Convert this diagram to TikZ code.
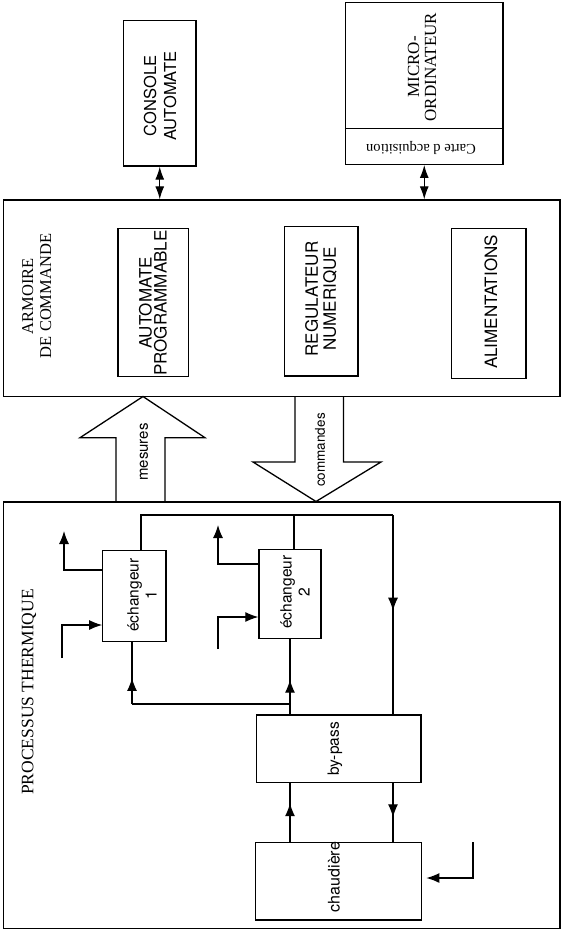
\documentclass[tikz,border=0pt]{standalone}
\usepackage{fontspec}
\setmainfont{Liberation Serif}
\setsansfont{TeX Gyre Heros}
\usetikzlibrary{arrows.meta,decorations.markings}
\tikzset{
  box/.style={draw, line width=1.3pt, inner sep=0pt},
  lbl/.style={inner sep=0pt, align=center, rotate=90},
  wire/.style={line width=1.2pt},
  tipend/.style={-{Latex[length=13pt,width=10pt]}},
  dbl/.style={{Latex[length=13pt,width=9pt]}-{Latex[length=13pt,width=9pt]}, line width=1.2pt},
  arrowat/.style={postaction={decorate}, decoration={markings, mark=at position #1 with {\arrow{Latex[length=13pt,width=10pt]}}}},
  big/.style={line width=1.3pt, line join=miter}
}
\begin{document}
\begin{tikzpicture}[x=1pt,y=-1pt]
\useasboundingbox (0,0) rectangle (562,937);
% boxes
\node[box, minimum width=72.7pt, minimum height=145.3pt] (console) at (159.75,93.35) {};
\node[box, minimum width=157.5pt, minimum height=161.9pt] (micro) at (424.25,83.35) {};
\coordinate (div) at (424,128.7);
\draw[wire] (micro.west |- div) -- (micro.east |- div);
\node[box, minimum width=556.4pt, minimum height=196.5pt] (armoire) at (281.8,298.25) {};
\node[box, minimum width=70.6pt, minimum height=148.4pt] (autoprog) at (153.3,302.5) {};
\node[box, minimum width=73.5pt, minimum height=149.5pt] (regul) at (321.25,301.25) {};
\node[box, minimum width=74.5pt, minimum height=150pt] (alim) at (488.75,303.5) {};
\node[box, minimum width=556.4pt, minimum height=426.3pt] (process) at (281.8,715.15) {};
\node[box, minimum width=63.2pt, minimum height=90.4pt] (ech1) at (134.4,596) {};
\node[box, minimum width=62pt, minimum height=89pt] (ech2) at (290,593.8) {};
\node[box, minimum width=164.5pt, minimum height=67.5pt] (bypass) at (338.75,748.75) {};
\node[box, minimum width=166.2pt, minimum height=77.3pt] (chaud) at (338.6,881.35) {};

% texts
\node[lbl, font=\sffamily\fontsize{16.5}{20}\selectfont] (tconsole) at (160,96) {CONSOLE\\AUTOMATE};
\node[lbl, font=\rmfamily\fontsize{17}{17}\selectfont] (tmicro) at (422,67) {MICRO-\\ORDINATEUR};
\node[inner sep=0pt, rotate=180, font=\rmfamily\fontsize{14.5}{16}\selectfont] (tcarte) at (421,147.5) {Carte d acquisition};
\node[lbl, font=\rmfamily\fontsize{16.5}{18}\selectfont] (tarmoire) at (36.7,296) {ARMOIRE\\DE COMMANDE};
\node[lbl, font=\sffamily\fontsize{17}{15}\selectfont] (tauto) at (153,303) {AUTOMATE\\PROGRAMMABLE};
\node[lbl, font=\sffamily\fontsize{17}{18}\selectfont] (tregul) at (321,299) {REGULATEUR\\NUMERIQUE};
\node[lbl, font=\sffamily\fontsize{17}{18}\selectfont] (talim) at (491,302) {ALIMENTATIONS};
\node[lbl, font=\sffamily\fontsize{15}{18}\selectfont] (tmes) at (144,452) {mesures};
\node[lbl, font=\sffamily\fontsize{13.5}{16}\selectfont] (tcom) at (320,450) {commandes};
\node[lbl, font=\rmfamily\fontsize{17.5}{20}\selectfont] (tproc) at (29,692) {PROCESSUS THERMIQUE};
\node[lbl, font=\sffamily\fontsize{15.5}{18}\selectfont] (tech1) at (142,595) {échangeur\\1};
\node[lbl, font=\sffamily\fontsize{15.5}{18}\selectfont] (tech2) at (295,592) {échangeur\\2};
\node[lbl, font=\sffamily\fontsize{15.5}{18}\selectfont] (tbyp) at (335,749) {by-pass};
\node[lbl, font=\sffamily\fontsize{16}{18}\selectfont] (tchaud) at (334,877) {chaudière};

% double arrows
\draw[dbl] (console.south) -- (console.south |- armoire.north);
\draw[dbl] (micro.south) -- (micro.south |- armoire.north);

% big arrows
\draw[big] (116,502) -- (116,437.7) -- (80,437.7) -- (143,396.5) -- (205,437.7) -- (165,437.7) -- (165,502);
\draw[big] (295,396.5) -- (295,462) -- (253,462) -- (316,501.5) -- (381,462) -- (343.5,462) -- (343.5,396.5);

% process circuit
\coordinate (L1) at (141,515);
\coordinate (L2) at (294,515);
\coordinate (L3) at (393,515);
\draw[wire] (ech1.north -| L1) -- (L1) -- (L3);
\draw[wire] (L2) -- (L2 |- ech2.north);
\draw[wire, arrowat=0.48] (L3) -- (L3 |- bypass.north);

\coordinate (B1) at (132,704);
\coordinate (B2) at (290,704);
\draw[wire] (B2) -- (B1);
\draw[wire, arrowat=0.42] (B1) -- (B1 |- ech1.south);
\draw[wire, arrowat=0.46] (B2 |- bypass.north) -- (B2 |- ech2.south);

% exchanger in/out
\coordinate (o1) at (64,531);
\draw[wire, tipend] (ech1.west |- 0,570) -- (o1 |- 0,570) -- (o1);
\coordinate (i1) at (62,658);
\draw[wire, tipend] (i1) -- (62,625) -- (ech1.west |- 0,625);
\coordinate (o2) at (218,525);
\draw[wire, tipend] (ech2.west |- 0,564) -- (o2 |- 0,564) -- (o2);
\coordinate (i2) at (218,649);
\draw[wire, tipend] (i2) -- (218,617) -- (ech2.west |- 0,617);

% bypass <-> chaudiere
\draw[wire, arrowat=0.66] (chaud.north -| B2) -- (bypass.south -| B2);
\draw[wire, arrowat=0.58] (bypass.south -| L3) -- (chaud.north -| L3);
\coordinate (c1) at (473,842.3);
\draw[wire, tipend, shorten >=4pt] (c1) -- (473,878) -- (chaud.east |- 0,878);
\end{tikzpicture}
\end{document}
